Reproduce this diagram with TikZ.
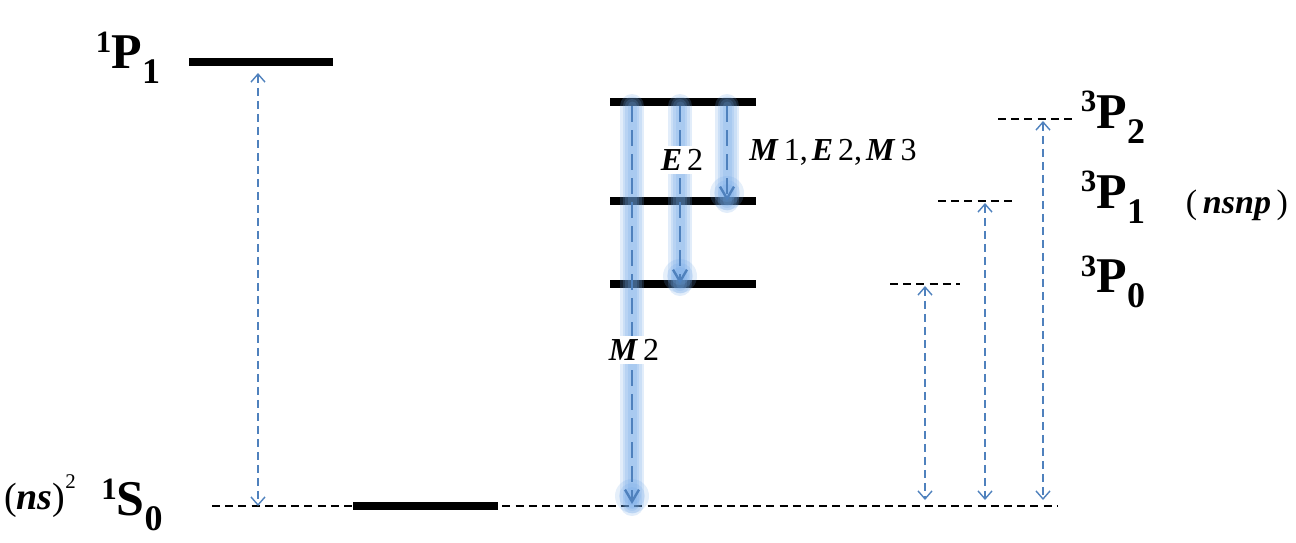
\documentclass[tikz,border=0pt]{standalone}
\usepackage{fontspec}
\setmainfont{Liberation Serif}
\usetikzlibrary{arrows.meta}
\usetikzlibrary{calc}
\usepackage{xcolor}

\definecolor{trans}{RGB}{79,129,189}
\definecolor{glow}{RGB}{110,165,230}

% term symbol: ^{a}L_{b}
\newcommand{\termsym}[3]{\raisebox{0.33em}{\scalebox{0.62}{#1}}#2\raisebox{-0.3em}{\scalebox{0.72}{#3}}}
\newcommand{\bit}[1]{\textbf{\textit{#1}}}

\tikzset{
  level/.style={line width=4pt},
  ghost/.style={line width=0.8pt, dash pattern=on 4pt off 2.6pt},
  probe/.style={trans, line width=0.7pt, dash pattern=on 4pt off 2.5pt,
    {Straight Barb[length=4pt,width=7pt]}-{Straight Barb[length=4pt,width=7pt]}},
  decay/.style={trans, line width=1.4pt, dash pattern=on 8pt off 4pt,
    -{Straight Barb[length=6pt,width=7pt,line width=1.2pt]}},
  halo/.style={glow, line width=#1, opacity=0.2, line cap=round},
  term/.style={font=\fontsize{25}{30}\selectfont\bfseries, inner sep=0pt},
  tag/.style={font=\fontsize{16}{19}\selectfont, inner sep=1.5pt},
}

\begin{document}
\begin{tikzpicture}[x=0.5pt,y=-0.5pt]
    \useasboundingbox (0,0) rectangle (1296,542);

        % Levels
        \coordinate (P1l) at (189,62);   \coordinate (P1r) at (333,62);
        \coordinate (S0l) at (353,506);  \coordinate (S0r) at (498,506);
        \coordinate (Mal) at (610,102);  \coordinate (Mar) at (756,102);
        \coordinate (Mbl) at (610,201);  \coordinate (Mbr) at (756,201);
        \coordinate (Mcl) at (610,284);  \coordinate (Mcr) at (756,284);
        \coordinate (gnd) at (212,506);  \coordinate (gndr) at (1057,506);
        \coordinate (T2l) at (998,119);  \coordinate (T2r) at (1075,119);
        \coordinate (T1l) at (938,201);  \coordinate (T1r) at (1016,201);
        \coordinate (T0l) at (890,284);  \coordinate (T0r) at (960,284);

        \draw[ghost] (gnd) -- (gndr);
        \draw[ghost] (T2l) -- (T2r);
        \draw[ghost] (T1l) -- (T1r);
        \draw[ghost] (T0l) -- (T0r);

        \draw[level] (P1l) -- (P1r);
        \draw[level] (S0l) -- (S0r);
        \draw[level] (Mal) -- (Mar);
        \draw[level] (Mbl) -- (Mbr);
        \draw[level] (Mcl) -- (Mcr);

        % Decay arrows (glowing)
        \coordinate (m2top) at (632,106);  \coordinate (m2bot) at (632,504);
        \coordinate (e2top) at (680,106);  \coordinate (e2bot) at (680,284);
        \coordinate (m1top) at (727,106);  \coordinate (m1bot) at (727,201);
        \foreach \a/\b in {m2top/m2bot, e2top/e2bot, m1top/m1bot}
        {
          \foreach \w in {12,9.5,7,4.5}
            \draw[halo=\w pt] (\a) -- (\b);
          \foreach \r in {8.5,6.5,4.5}
            \fill[glow, opacity=0.18] ($(\b)+(0,-8)$) circle (\r pt);
        }
        \foreach \a/\b in {m2top/m2bot, e2top/e2bot, m1top/m1bot}
          \draw[decay] (\a) -- (\b);

        % Probe arrows
        \coordinate (x1) at (258,73);
        \draw[probe] (x1) -- (x1 |- gnd);
        \coordinate (x2) at (925,286);
        \draw[probe] (x2) -- ($(x2 |- gnd)+(0,-6)$);
        \coordinate (x3) at (985,203);
        \draw[probe] (x3) -- ($(x3 |- gnd)+(0,-6)$);
        \coordinate (x4) at (1043,121);
        \draw[probe] (x4) -- ($(x4 |- gnd)+(0,-6)$);

        % Labels
        \node[tag, fill=white] (e2) at (682,160) {\bit{E}\kern2.5pt 2};
        \node[tag, fill=white] (m2) at (634,350) {\bit{M}\kern2.5pt 2};
        \node[tag] (mult) at (833,152) {\bit{M}\kern2.5pt 1,\kern2pt\bit{E}\kern2.5pt 2,\kern2pt\bit{M}\kern2.5pt 3};

        \node[term] (P1) at (128,58) {\termsym{1}{P}{1}};
        \node[term] (S0) at (132,505) {\termsym{1}{S}{0}};
        \node[tag, font=\fontsize{19}{22}\selectfont] (ns) at (40,496) {(\bit{ns})\raisebox{0.55em}{\scalebox{0.55}{2}}};
        \node[term] (T2) at (1113,117) {\termsym{3}{P}{2}};
        \node[term] (T1) at (1113,197) {\termsym{3}{P}{1}};
        \node[term] (T0) at (1113,282) {\termsym{3}{P}{0}};
        \node[tag, font=\fontsize{17}{20}\selectfont] (nsnp) at (1237,205) {(\,\bit{nsnp}\,)};

    \end{tikzpicture}
\end{document}
